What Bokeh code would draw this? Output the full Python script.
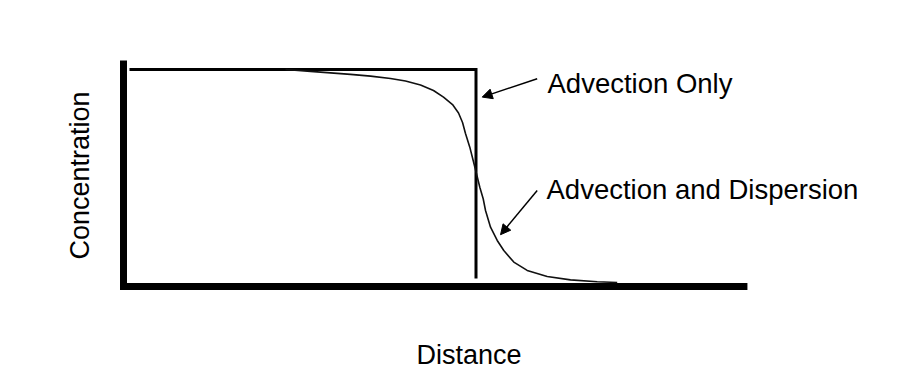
import math
from bokeh.plotting import figure
from bokeh.models import Range1d, Arrow, NormalHead, ColumnDataSource
from bokeh.core.properties import value
from bokeh.embed import file_html
from bokeh.resources import INLINE

# ---- data ----
# Advection only: sharp front (step)
step_distance = [0.085, 5.0, 5.0]
step_conc = [1.0, 1.0, 0.023]

# Advection and dispersion: smeared front
disp_distance = [2.298, 2.652, 2.936, 3.220, 3.504, 3.787, 4.000, 4.213, 4.397,
                 4.539, 4.667, 4.752, 4.809, 4.851, 4.912, 4.960, 5.007, 5.054,
                 5.102, 5.135, 5.206, 5.301, 5.394, 5.536, 5.726, 6.010, 6.340,
                 6.719, 7.003]
disp_conc = [1.000, 0.991, 0.984, 0.977, 0.969, 0.958, 0.946, 0.928, 0.902,
             0.871, 0.836, 0.797, 0.752, 0.701, 0.637, 0.575, 0.513, 0.450,
             0.396, 0.341, 0.263, 0.201, 0.154, 0.100, 0.061, 0.033, 0.017,
             0.008, 0.005]

# axis extents (data units)
x_axis_end = 8.85
y_axis_top = 1.042
axis_offset = -0.014

# annotation texts and anchors
label_texts = ["Advection Only", "Advection and Dispersion"]
label_x = [6.014, 6.0]
label_y = [0.935, 0.439]
arrow_start_x = [5.868, 5.868]
arrow_start_y = [0.957, 0.435]
arrow_end_x = [5.088, 5.348]
arrow_end_y = [0.871, 0.228]

x_title = "Distance"
y_title = "Concentration"

FONT = "Liberation Sans"

p = figure(width=902, height=387, output_backend="svg", toolbar_location=None,
           x_axis_type=None, y_axis_type=None, min_border=0,
           x_range=Range1d(-1.7447, 11.0496), y_range=Range1d(-0.4860, 1.3224))
p.grid.visible = False
p.outline_line_color = None
p.background_fill_color = "white"
p.border_fill_color = "white"

# thick axes
p.line([0, 0, x_axis_end], [y_axis_top, axis_offset, axis_offset],
       line_color="black", line_width=7, line_join="miter", line_cap="butt")

# step (advection only)
p.line(step_distance, step_conc, line_color="black", line_width=3,
       line_join="miter")

# dispersion curve
p.line(disp_distance, disp_conc, line_color="#111111", line_width=1.6,
       line_join="round")

# labels with arrows
src = ColumnDataSource(dict(x=label_x, y=label_y, t=label_texts))
p.text(x="x", y="y", text="t", source=src, text_font=value(FONT),
       text_font_size="27.5px", text_align="left", text_baseline="alphabetic",
       text_color="black")
for xs, ys, xe, ye in zip(arrow_start_x, arrow_start_y, arrow_end_x, arrow_end_y):
    p.add_layout(Arrow(x_start=xs, y_start=ys, x_end=xe, y_end=ye,
                       line_color="black", line_width=1.5,
                       end=NormalHead(size=10, fill_color="black", line_color="black")))

# axis titles
p.text(x=[4.901], y=[-0.332], text=[x_title], text_font=value(FONT),
       text_font_size="27px", text_align="center", text_baseline="alphabetic",
       text_color="black")
p.text(x=[-0.624], y=[0.505], text=[y_title], text_font=value(FONT),
       text_font_size="27px", text_align="center", text_baseline="alphabetic",
       angle=math.pi / 2, text_color="black")

open("out.html", "w").write(file_html(p, INLINE))
